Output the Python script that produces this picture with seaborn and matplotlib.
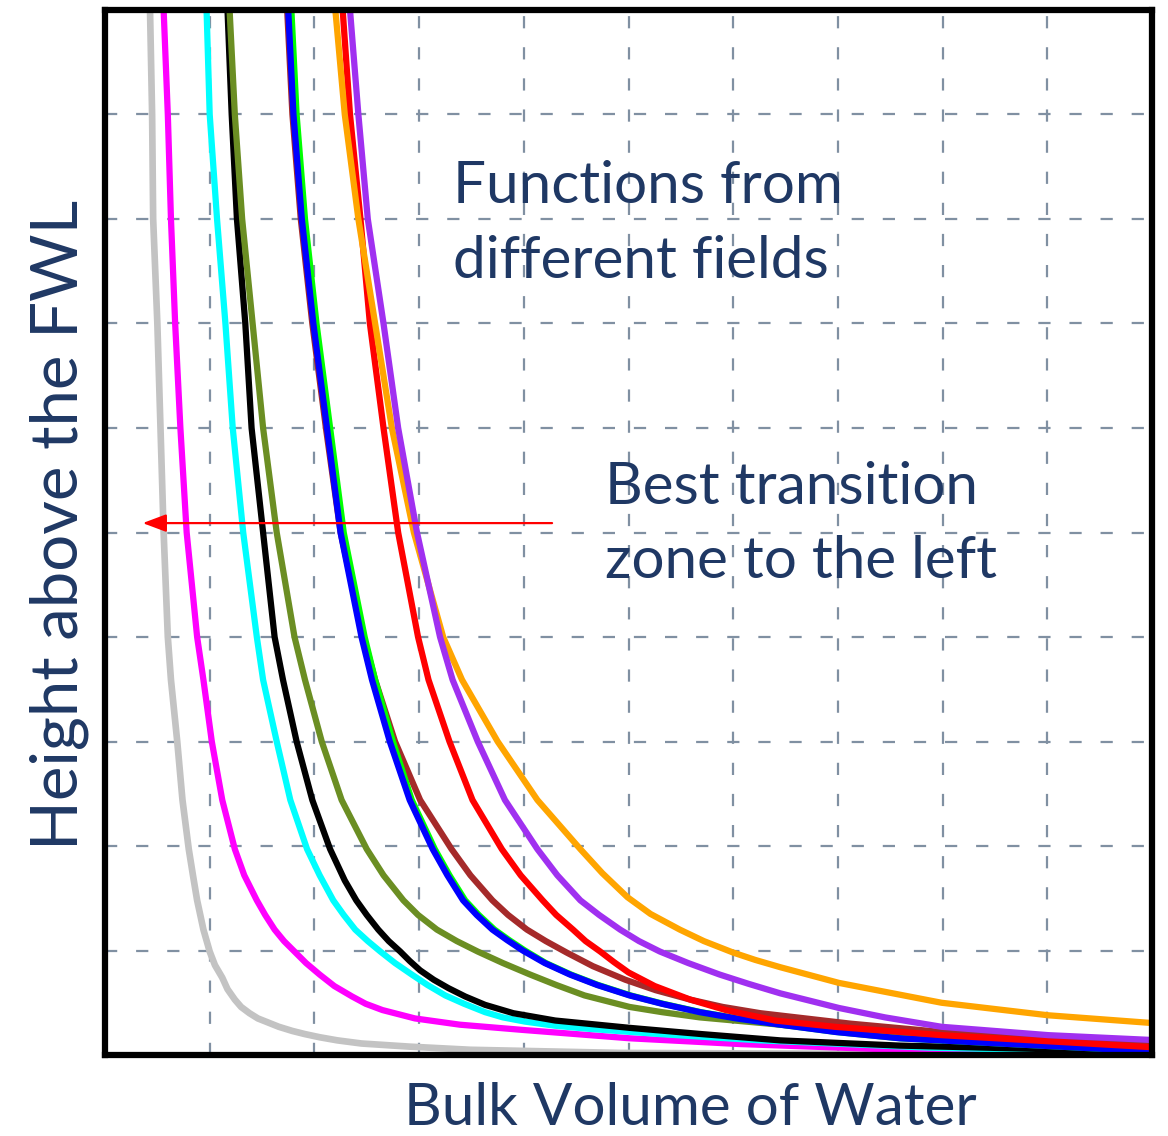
import matplotlib
matplotlib.use("Agg")
import matplotlib.pyplot as plt
import seaborn as sns
import pandas as pd

# Saturation-height curves: bulk volume of water (x) vs height above FWL (y)
gray_x = [0.43, 0.45, 0.46, 0.50, 0.53, 0.56, 0.60, 0.63, 0.69, 0.74, 0.80, 0.84, 0.88, 0.94, 1.00, 1.05, 1.12, 1.17, 1.24, 1.30, 1.38, 1.46, 1.56, 1.66, 1.79, 1.91, 2.05, 2.22, 2.45, 2.91, 3.49, 4.92, 10.08]
gray_y = [10, 9, 8, 7, 6, 5, 4, 3.59, 3, 2.44, 1.97, 1.72, 1.48, 1.20, 0.99, 0.86, 0.74, 0.63, 0.53, 0.46, 0.40, 0.35, 0.31, 0.27, 0.23, 0.20, 0.17, 0.14, 0.11, 0.08, 0.05, 0.02, 0.0]

magenta_x = [0.56, 0.60, 0.63, 0.67, 0.72, 0.78, 0.88, 0.94, 1.02, 1.12, 1.24, 1.33, 1.45, 1.53, 1.62, 1.71, 1.81, 1.92, 2.05, 2.19, 2.36, 2.49, 2.65, 2.96, 3.39, 3.99, 5.01, 6.06, 7.59, 10.08]
magenta_y = [10, 9, 8, 7, 6, 5, 4, 3.59, 3, 2.44, 1.97, 1.72, 1.48, 1.34, 1.20, 1.09, 0.99, 0.88, 0.77, 0.66, 0.56, 0.49, 0.43, 0.35, 0.29, 0.24, 0.16, 0.105, 0.05, 0.02]

cyan_x = [0.97, 1.00, 1.07, 1.15, 1.22, 1.32, 1.45, 1.51, 1.64, 1.77, 1.93, 2.05, 2.18, 2.28, 2.39, 2.51, 2.63, 2.77, 2.93, 3.08, 3.25, 3.43, 3.63, 3.80, 4.01, 4.30, 4.63, 5.30, 6.26, 7.88, 10.08]
cyan_y = [10, 9, 8, 7, 6, 5, 4, 3.59, 3, 2.44, 1.97, 1.72, 1.48, 1.34, 1.20, 1.09, 0.99, 0.88, 0.77, 0.67, 0.57, 0.49, 0.41, 0.36, 0.32, 0.28, 0.25, 0.20, 0.14, 0.07, 0.02]

black_x = [1.17, 1.21, 1.26, 1.34, 1.40, 1.51, 1.62, 1.70, 1.83, 1.98, 2.15, 2.29, 2.40, 2.50, 2.61, 2.71, 2.82, 2.91, 3.01, 3.14, 3.28, 3.44, 3.63, 3.90, 4.30, 5.01, 5.70, 6.45, 7.59, 10.08]
black_y = [10, 9, 8, 7, 6, 5, 4, 3.59, 3, 2.44, 1.97, 1.67, 1.48, 1.34, 1.20, 1.09, 0.99, 0.90, 0.81, 0.72, 0.64, 0.56, 0.48, 0.40, 0.33, 0.26, 0.20, 0.14, 0.09, 0.03]

olive_x = [1.19, 1.24, 1.31, 1.41, 1.51, 1.64, 1.81, 1.91, 2.07, 2.26, 2.50, 2.66, 2.85, 2.99, 3.17, 3.36, 3.56, 3.80, 4.06, 4.31, 4.58, 5.01, 5.32, 5.68, 6.45, 6.98, 7.59, 10.08]
olive_y = [10, 9, 8, 7, 6, 5, 4, 3.59, 3, 2.44, 1.97, 1.72, 1.48, 1.34, 1.20, 1.09, 0.99, 0.88, 0.77, 0.67, 0.57, 0.46, 0.41, 0.36, 0.29, 0.24, 0.19, 0.07]

green_x = [1.78, 1.83, 1.91, 2.02, 2.15, 2.28, 2.48, 2.58, 2.75, 2.93, 3.15, 3.29, 3.44, 3.57, 3.72, 3.86, 4.01, 4.21, 4.45, 4.71, 5.02, 5.33, 5.69, 6.04, 6.46, 6.99, 7.60, 10.08]
green_y = [10, 9, 8, 7, 6, 5, 4, 3.59, 3, 2.44, 1.97, 1.72, 1.48, 1.34, 1.20, 1.10, 1.0, 0.88, 0.77, 0.67, 0.57, 0.49, 0.41, 0.35, 0.29, 0.22, 0.16, 0.03]

blue_x = [1.75, 1.80, 1.88, 1.99, 2.12, 2.25, 2.45, 2.55, 2.72, 2.91, 3.13, 3.27, 3.42, 3.55, 3.70, 3.84, 3.99, 4.20, 4.44, 4.70, 5.01, 5.32, 5.68, 6.03, 6.45, 6.98, 7.59, 10.08]
blue_y = [10, 9, 8, 7, 6, 5, 4, 3.59, 3, 2.44, 1.97, 1.72, 1.48, 1.34, 1.20, 1.10, 1.0, 0.88, 0.77, 0.67, 0.57, 0.49, 0.41, 0.35, 0.29, 0.22, 0.16, 0.03]

brown_x = [1.74, 1.79, 1.87, 1.98, 2.11, 2.25, 2.47, 2.58, 2.77, 3.01, 3.31, 3.49, 3.70, 3.85, 4.03, 4.21, 4.41, 4.66, 4.97, 5.26, 5.59, 5.90, 6.26, 7.12, 7.99, 10.08]
brown_y = [10, 9, 8, 7, 6, 5, 4, 3.59, 3, 2.44, 1.97, 1.72, 1.48, 1.34, 1.20, 1.09, 0.98, 0.85, 0.72, 0.62, 0.53, 0.46, 0.40, 0.30, 0.22, 0.11]

red_x = [2.27, 2.34, 2.44, 2.53, 2.66, 2.80, 2.99, 3.09, 3.29, 3.51, 3.79, 3.97, 4.18, 4.31, 4.47, 4.59, 4.73, 4.86, 5.00, 5.25, 5.59, 5.93, 6.40, 6.97, 7.99, 10.08]
red_y = [10, 9, 8, 7, 6, 5, 4, 3.59, 3, 2.44, 1.97, 1.72, 1.48, 1.34, 1.20, 1.09, 0.99, 0.89, 0.79, 0.66, 0.53, 0.43, 0.33, 0.27, 0.19, 0.07]

purple_x = [2.34, 2.42, 2.51, 2.66, 2.80, 2.98, 3.20, 3.32, 3.56, 3.82, 4.13, 4.32, 4.54, 4.72, 4.92, 5.10, 5.30, 5.57, 5.87, 6.15, 6.45, 7.01, 7.45, 7.99, 9.01, 10.08]
purple_y = [10, 9, 8, 7, 6, 5, 4, 3.59, 3, 2.44, 1.97, 1.72, 1.48, 1.34, 1.20, 1.09, 0.99, 0.88, 0.77, 0.68, 0.59, 0.45, 0.36, 0.27, 0.19, 0.14]

orange_x = [2.20, 2.29, 2.42, 2.58, 2.74, 2.95, 3.23, 3.41, 3.75, 4.13, 4.54, 4.75, 4.99, 5.21, 5.49, 5.72, 6.00, 6.21, 6.45, 7.01, 7.99, 9.01, 10.08]
orange_y = [10, 9, 8, 7, 6, 5, 4, 3.59, 3, 2.44, 1.97, 1.74, 1.51, 1.35, 1.20, 1.09, 0.98, 0.91, 0.84, 0.69, 0.50, 0.38, 0.30]

curves = [
    ("gray", gray_x, gray_y, "#c3c3c3", 4.8),
    ("magenta", magenta_x, magenta_y, "#ff00ff", 4.5),
    ("cyan", cyan_x, cyan_y, "#00ffff", 4.5),
    ("black", black_x, black_y, "#000000", 4.5),
    ("olive", olive_x, olive_y, "#6b8e23", 4.5),
    ("brown", brown_x, brown_y, "#a52a2a", 4.5),
    ("green", green_x, green_y, "#00ff00", 4.5),
    ("blue", blue_x, blue_y, "#0000ff", 4.5),
    ("red", red_x, red_y, "#ff0000", 4.5),
    ("orange", orange_x, orange_y, "#ffa500", 4.5),
    ("purple", purple_x, purple_y, "#a030f0", 4.5),
]

annotation_main = "Functions from\ndifferent fields"
annotation_arrow = "Best transition\nzone to the left"
x_label = "Bulk Volume of Water"
y_label = "Height above the FWL"
text_color = "#1f3864"

sns.set_theme(style="white")
plt.rcParams["font.family"] = ["Lato", "DejaVu Sans"]

fig = plt.figure(figsize=(11.68, 11.36), dpi=100)
ax = fig.add_axes([0.0899, 0.0713, 0.8964, 0.9199])

for name, xs, ys, color, lw in curves:
    df = pd.DataFrame({"x": xs, "y": ys})
    sns.lineplot(data=df, x="x", y="y", ax=ax, color=color, linewidth=lw,
                 sort=False, estimator=None, zorder=3)
    line = ax.lines[-1]
    line.set_linewidth(lw)
    line.set_solid_joinstyle("round")
    line.set_solid_capstyle("round")

ax.set_xlim(0, 10)
ax.set_ylim(0, 10)
ax.set_xticks(range(1, 10))
ax.set_yticks(range(1, 10))
ax.set_xticklabels([])
ax.set_yticklabels([])
ax.set_xlabel("")
ax.set_ylabel("")
ax.tick_params(length=0)
ax.grid(True, color="#8090a2", linewidth=1.6, linestyle=(0, (5.5, 8.5)), zorder=1)
ax.set_axisbelow(True)

for side in ["left", "right", "top", "bottom"]:
    ax.spines[side].set_visible(True)
    ax.spines[side].set_color("black")
    ax.spines[side].set_linewidth(4.5)
    ax.spines[side].set_zorder(5)

fig.text(690 / 1168, 1 - 1125 / 1136, x_label, fontsize=42, color=text_color,
         ha="center", va="baseline")
fig.text(78 / 1168, 1 - 525 / 1136, y_label, fontsize=47, color=text_color,
         rotation=90, rotation_mode="anchor", ha="center", va="baseline")

ax.text(3.32, 7.44, annotation_main, fontsize=42, color=text_color,
        linespacing=1.5, va="baseline", ha="left", zorder=6)
ax.text(4.78, 4.56, annotation_arrow, fontsize=42, color=text_color,
        linespacing=1.5, va="baseline", ha="left", zorder=6)

ax.annotate("", xy=(0.36, 5.09), xytext=(4.27, 5.09),
            arrowprops=dict(arrowstyle="-|>,head_length=1.2,head_width=0.45",
                            color="#ff0000", lw=1.6, shrinkA=0, shrinkB=0),
            zorder=6)

fig.savefig("out.png", dpi=100)
